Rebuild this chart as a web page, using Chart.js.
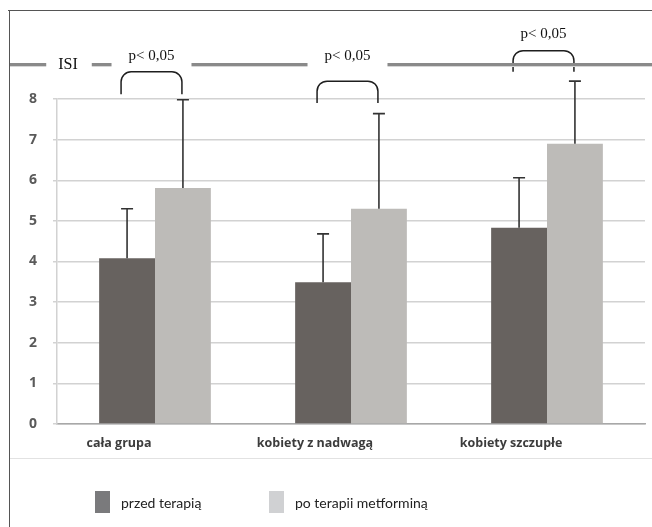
<!DOCTYPE html>
<html lang="pl">
<head>
<meta charset="UTF-8">
<title>ISI</title>
<script src="https://cdn.jsdelivr.net/npm/chart.js"></script>
<style>
    body { margin: 0; background: #fff; }
    .wrap { position: relative; width: 652px; height: 527px; overflow: hidden; }
    canvas { position: absolute; left: 0; top: 0; }
    .legend { position: absolute; top: 491px; font: 14px Lato, sans-serif; color: #222; }
    .legend .box { position: absolute; top: 0; width: 15px; height: 22px; }
    .legend .txt { position: absolute; top: 3px; white-space: nowrap; }
</style>
</head>
<body>
<div class="wrap">
    <canvas id="isiChart" width="652" height="527"></canvas>
    <div class="legend" id="legend"></div>
</div>

<script>
    const categories = ['cała grupa', 'kobiety z nadwagą', 'kobiety szczupłe'];
    const seriesNames = ['przed terapią', 'po terapii metforminą'];
    const beforeValues = [4.08, 3.49, 4.83];
    const beforeSD = [1.22, 1.19, 1.23];
    const afterValues = [5.81, 5.30, 6.90];
    const afterSD = [2.17, 2.34, 1.54];
    const yTicks = [0, 1, 2, 3, 4, 5, 6, 7, 8];
    const pLabels = ['p< 0,05', 'p< 0,05', 'p< 0,05'];
    // bracket top / leg bottom / label level, in ISI units
    const bracketTop = [8.67, 8.44, 9.19];
    const bracketBottom = [8.12, 7.90, 8.67];
    const labelLevel = [9.06, 9.06, 9.60];

    const barColors = ['#67625f', '#bdbbb8'];
    const legendColors = ['#7a7a7c', '#d0d1d3'];

    // frame, ISI header line, error bars and brackets
    const overlay = {
        id: 'overlay',
        afterDatasetsDraw(chart) {
            const ctx = chart.ctx;
            const y = chart.scales.y;
            const metaB = chart.getDatasetMeta(0).data;
            const metaA = chart.getDatasetMeta(1).data;

            ctx.save();
            // error bars
            ctx.strokeStyle = '#333';
            ctx.lineWidth = 1.6;
            const sds = [beforeSD, afterSD];
            const vals = [beforeValues, afterValues];
            [metaB, metaA].forEach((bars, s) => {
                bars.forEach((bar, i) => {
                    const top = y.getPixelForValue(vals[s][i] + sds[s][i]);
                    ctx.beginPath();
                    ctx.moveTo(bar.x, bar.y);
                    ctx.lineTo(bar.x, top);
                    ctx.moveTo(bar.x - 6, top);
                    ctx.lineTo(bar.x + 6, top);
                    ctx.stroke();
                });
            });

            // brackets + p labels
            ctx.font = '15px "Liberation Serif", serif';
            ctx.textAlign = 'center';
            ctx.textBaseline = 'middle';
            const gaps = [];
            categories.forEach((c, i) => {
                const l = metaB[i].x - 6;
                const r = metaA[i].x - 1;
                const t = y.getPixelForValue(bracketTop[i]);
                const b = y.getPixelForValue(bracketBottom[i]);
                const rad = 10;
                ctx.strokeStyle = '#1e1e1e';
                ctx.lineWidth = 1.5;
                ctx.beginPath();
                ctx.moveTo(l, b);
                ctx.lineTo(l, t + rad);
                ctx.arcTo(l, t, l + rad, t, rad);
                ctx.lineTo(r - rad, t);
                ctx.arcTo(r, t, r, t + rad, rad);
                ctx.lineTo(r, b);
                ctx.stroke();
                const cx = (l + r) / 2;
                const ly = y.getPixelForValue(labelLevel[i]);
                ctx.fillStyle = '#111';
                ctx.fillText(pLabels[i], cx, ly);
                const w = ctx.measureText(pLabels[i]).width;
                if (ly > 50) gaps.push([cx - w / 2 - 17, cx + w / 2 + 17]);
            });

            // ISI label and header line
            ctx.font = '16px "Liberation Serif", serif';
            ctx.fillText('ISI', 68, 65);
            const iw = ctx.measureText('ISI').width;
            gaps.unshift([68 - iw / 2 - 12, 68 + iw / 2 + 14]);

            let x0 = 10;
            const segs = [];
            gaps.forEach(g => { segs.push([x0, g[0]]); x0 = g[1]; });
            segs.push([x0, 652]);
            segs.forEach(s => {
                ctx.fillStyle = '#8a8a8a';
                ctx.fillRect(s[0], 63, s[1] - s[0], 3);
                ctx.fillStyle = '#d6d6d6';
                ctx.fillRect(s[0], 66, s[1] - s[0], 1);
            });

            // outer frame and separator
            ctx.fillStyle = '#555';
            ctx.fillRect(8, 10, 644, 1);
            ctx.fillRect(9, 10, 1, 517);
            ctx.fillStyle = '#e2e2e2';
            ctx.fillRect(10, 458, 642, 1);
            ctx.restore();
        }
    };

    new Chart(document.getElementById('isiChart'), {
        type: 'bar',
        data: {
            labels: categories,
            datasets: [{
                label: seriesNames[0],
                data: beforeValues,
                backgroundColor: barColors[0]
            }, {
                label: seriesNames[1],
                data: afterValues,
                backgroundColor: barColors[1]
            }]
        },
        options: {
            responsive: false,
            animation: false,
            devicePixelRatio: 1,
            layout: { padding: { top: 99, left: 10, right: 7, bottom: 69 } },
            datasets: { bar: { categoryPercentage: 0.57, barPercentage: 1.0 } },
            plugins: {
                legend: { display: false },
                tooltip: { enabled: false }
            },
            scales: {
                x: {
                    grid: { display: false },
                    border: { display: true, color: '#a8a8a8', width: 1.5 },
                    ticks: {
                        color: '#3c3c3c',
                        font: { family: '"Open Sans", sans-serif', size: 12.5, weight: 'bold' },
                        padding: 4,
                        labelOffset: -36,
                        maxRotation: 0
                    },
                    afterFit(scale) { scale.height = 34; }
                },
                y: {
                    min: 0,
                    max: 8,
                    afterBuildTicks(scale) { scale.ticks = yTicks.map(v => ({ value: v })); },
                    grid: { color: '#d2d2d2', lineWidth: 1.5, tickLength: 4 },
                    border: { display: true, color: '#d2d2d2', width: 1.5 },
                    ticks: {
                        color: '#5a5a5a',
                        font: { family: '"Noto Sans", sans-serif', size: 14, weight: 'bold' },
                        padding: 16
                    },
                    afterFit(scale) { scale.width = 47; }
                }
            }
        },
        plugins: [overlay]
    });

    // legend
    const legend = document.getElementById('legend');
    const legendX = [95, 269];
    seriesNames.forEach((name, i) => {
        const box = document.createElement('span');
        box.className = 'box';
        box.style.left = legendX[i] + 'px';
        box.style.background = legendColors[i];
        const txt = document.createElement('span');
        txt.className = 'txt';
        txt.style.left = (legendX[i] + 26) + 'px';
        txt.textContent = name;
        legend.appendChild(box);
        legend.appendChild(txt);
    });
</script>
</body>
</html>
